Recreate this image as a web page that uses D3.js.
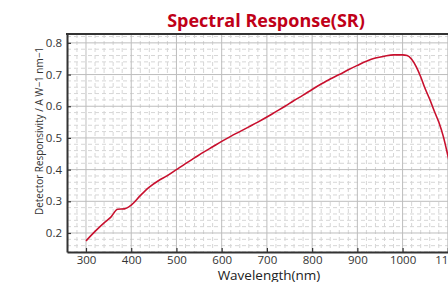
<!DOCTYPE html>
<html><head><meta charset="utf-8">
<script src="https://cdn.jsdelivr.net/npm/d3@7"></script>
<style>
html,body{margin:0;padding:0;background:#fff;overflow:hidden;}
svg{display:block;font-family:"Open Sans","Noto Sans",sans-serif;}
</style></head>
<body>
<svg id="chart" width="448" height="282"></svg>
<script>
const wavelength = [300,320,340,355,370,385,400,420,440,460,480,500,520,540,560,580,600,620,640,660,680,700,720,740,760,780,800,820,840,860,880,900,920,940,960,980,1000,1010,1020,1030,1040,1050,1060,1070,1080,1090,1100,1110,1120];
const responsivity = [0.175,0.205,0.232,0.250,0.275,0.276,0.288,0.318,0.345,0.365,0.381,0.400,0.419,0.437,0.455,0.472,0.489,0.505,0.520,0.535,0.550,0.566,0.583,0.600,0.618,0.635,0.653,0.670,0.686,0.700,0.715,0.729,0.742,0.752,0.758,0.762,0.762,0.760,0.748,0.725,0.693,0.655,0.622,0.585,0.550,0.505,0.445,0.38,0.31];
const xTicks = [300,400,500,600,700,800,900,1000,1100];
const yTicks = [0.2,0.3,0.4,0.5,0.6,0.7,0.8];
const title = "Spectral Response(SR)";
const xLabel = "Wavelength(nm)";
const yLabel = "Detector Responsivity  / A W\u22121 nm\u22121";

const svg = d3.select("#chart");
const L=67, R=465, T=34, B=252;
const x = d3.scaleLinear().domain([258,1138]).range([L,R]);
const y = d3.scaleLinear().domain([0.14,0.828]).range([B,T]);

const defs = svg.append("defs");
defs.append("clipPath").attr("id","clip").append("rect").attr("x",L).attr("y",T).attr("width",R-L).attr("height",B-T);

const g = svg.append("g").attr("clip-path","url(#clip)");
// minor grid
const xMinor = d3.range(260,1140,20).filter(v=>v%100!==0);
const yMinor = d3.range(0.14,0.83,0.02).map(v=>+v.toFixed(2)).filter(v=>Math.abs(v*10-Math.round(v*10))>1e-6);
g.selectAll(".xm").data(xMinor).enter().append("line")
 .attr("x1",d=>x(d)).attr("x2",d=>x(d)).attr("y1",T).attr("y2",B)
 .attr("stroke","#d6d6d6").attr("stroke-width",1).attr("stroke-dasharray","4,3");
g.selectAll(".ym").data(yMinor).enter().append("line")
 .attr("x1",L).attr("x2",R).attr("y1",d=>y(d)).attr("y2",d=>y(d))
 .attr("stroke","#d6d6d6").attr("stroke-width",1).attr("stroke-dasharray","4,3");
// major grid
g.selectAll(".xg").data(xTicks).enter().append("line")
 .attr("x1",d=>x(d)).attr("x2",d=>x(d)).attr("y1",T).attr("y2",B)
 .attr("stroke","#bdbdbd").attr("stroke-width",1);
g.selectAll(".yg").data(yTicks).enter().append("line")
 .attr("x1",L).attr("x2",R).attr("y1",d=>y(d)).attr("y2",d=>y(d))
 .attr("stroke","#bdbdbd").attr("stroke-width",1);

// curve
const pts = wavelength.map((w,i)=>[w,responsivity[i]]);
g.append("path").datum(pts)
 .attr("fill","none").attr("stroke","#c8102e").attr("stroke-width",1.6)
 .attr("d", d3.line().x(d=>x(d[0])).y(d=>y(d[1])).curve(d3.curveMonotoneX));

// axes
const xAxis = d3.axisBottom(x).tickValues(xTicks).tickFormat(d3.format("d")).tickSizeInner(-4).tickSizeOuter(0).tickPadding(4);
const yAxis = d3.axisLeft(y).tickValues(yTicks).tickFormat(d3.format(".1f")).tickSizeInner(-4).tickSizeOuter(0).tickPadding(5);
const gx = svg.append("g").attr("transform",`translate(0,${B})`).call(xAxis);
const gy = svg.append("g").attr("transform",`translate(${L},0)`).call(yAxis);
[gx,gy].forEach(a=>{
  a.select(".domain").attr("stroke","#333").attr("stroke-width",2);
  a.selectAll(".tick line").attr("stroke","#333").attr("stroke-width",1.2);
  a.selectAll(".tick text").attr("fill","#333").style("font-size","11.5px").style("font-family","'Open Sans','Noto Sans',sans-serif");
});
// top border
svg.append("line").attr("x1",L-1).attr("x2",R).attr("y1",T).attr("y2",T).attr("stroke","#333").attr("stroke-width",2);

// title
svg.append("text").attr("x",(L+R)/2).attr("y",27).attr("text-anchor","middle")
 .attr("fill","#c00018").style("font-weight","bold").style("font-size","18px").text(title);
// x label
svg.append("text").attr("x",269).attr("y",280).attr("text-anchor","middle")
 .attr("fill","#222").style("font-size","13.5px").text(xLabel);
// y label
svg.append("text").attr("transform","translate(43,131) rotate(-90)").attr("text-anchor","middle")
 .attr("fill","#333").style("font-size","10.5px")
 .attr("textLength",168).attr("lengthAdjust","spacingAndGlyphs").text(yLabel);
</script>
</body></html>
